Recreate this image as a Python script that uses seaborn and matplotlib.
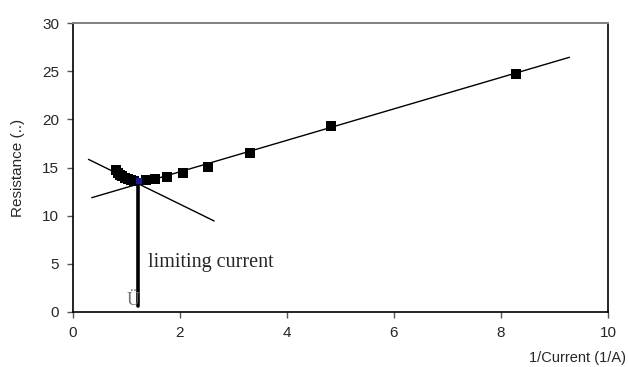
import matplotlib
matplotlib.use("Agg")
import matplotlib.pyplot as plt
import seaborn as sns
import pandas as pd

# Measured resistance against inverse current
inv_current = [0.80, 0.84, 0.88, 0.92, 0.97, 1.02, 1.08, 1.15,
               1.36, 1.53, 1.75, 2.05, 2.52, 3.30, 4.83, 8.28]
resistance = [14.7, 14.45, 14.25, 14.1, 13.95, 13.85, 13.75, 13.65,
              13.7, 13.8, 14.0, 14.4, 15.1, 16.5, 19.3, 24.7]

# Point where the two fitted lines meet
knee_x = [1.24]
knee_y = [13.6]

# Fitted straight lines (end points)
ohmic_x = [0.35, 9.28]
ohmic_y = [11.87, 26.45]
limit_x = [0.29, 2.64]
limit_y = [15.85, 9.45]

# Vertical marker for the limiting current
limit_current_x = [1.22, 1.22]
limit_current_y = [0.6, 13.3]

x_ticks = [0, 2, 4, 6, 8, 10]
y_ticks = [0, 5, 10, 15, 20, 25, 30]

sns.set_theme(style="white")
plt.rcParams["font.family"] = ["Liberation Sans", "DejaVu Sans"]

fig = plt.figure(figsize=(6.28, 3.67), dpi=100)
ax = fig.add_axes([0.1162, 0.1499, 0.968 - 0.1162, 0.937 - 0.1499])

data = pd.DataFrame({"x": inv_current, "y": resistance})

sns.lineplot(x=ohmic_x, y=ohmic_y, ax=ax, color="black", linewidth=1.0,
             estimator=None, sort=False)
sns.lineplot(x=limit_x, y=limit_y, ax=ax, color="black", linewidth=1.0,
             estimator=None, sort=False)
sns.lineplot(x=limit_current_x, y=limit_current_y, ax=ax, color="black",
             linewidth=2.6, estimator=None, sort=False)
sns.scatterplot(data=data, x="x", y="y", ax=ax, marker="s", color="black",
                s=42, edgecolor="black", linewidth=0, zorder=5)
sns.scatterplot(x=knee_x, y=knee_y, ax=ax, marker="s", color="#1a1aa0",
                s=18, linewidth=0, zorder=6)

ax.text(1.4, 5.1, "limiting current", fontsize=14.5,
        family=["Liberation Serif", "DejaVu Serif"], va="center", ha="left")
ax.text(1.12, 1.2, "Ü", fontsize=13, color="#777777",
        family=["Liberation Serif", "DejaVu Serif"], va="center", ha="center")

ax.set_xlim(0, 10)
ax.set_ylim(0, 30)
ax.set_xticks(x_ticks)
ax.set_yticks(y_ticks)
ax.tick_params(axis="both", which="major", direction="out", length=4,
               width=1, color="#555555", labelsize=11, pad=6,
               bottom=True, left=True)

for side in ["left", "bottom", "right"]:
    ax.spines[side].set_color("black")
    ax.spines[side].set_linewidth(1.2)
ax.spines["top"].set_color("#808080")
ax.spines["top"].set_linewidth(1.4)

ax.set_xlabel("")
ax.set_ylabel("Resistance (..)", fontsize=11, labelpad=12)
ax.text(1.033, -0.16, "1/Current (1/A)", transform=ax.transAxes,
        fontsize=10.5, ha="right", va="center")

fig.savefig("out.png", dpi=100)
